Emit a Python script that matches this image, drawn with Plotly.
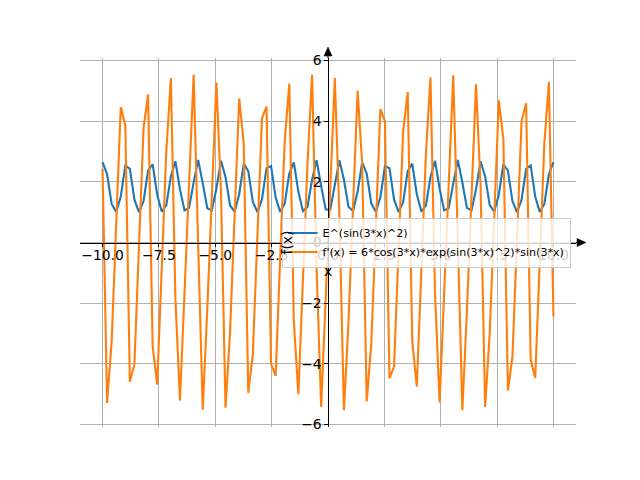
import numpy as np
import plotly.graph_objects as go

# ---- data ----
X_MIN, X_MAX, N_POINTS = -10.0, 10.0, 100
x_vals = np.linspace(X_MIN, X_MAX, N_POINTS)

f_vals = [2.65, 2.25, 1.27, 1.01, 1.51, 2.54, 2.43, 1.41, 1.00, 1.36,
          2.37, 2.58, 1.57, 1.02, 1.23, 2.18, 2.68, 1.75, 1.06, 1.14,
          1.98, 2.72, 1.95, 1.13, 1.06, 1.78, 2.69, 2.16, 1.22, 1.02,
          1.59, 2.60, 2.35, 1.34, 1.00, 1.42, 2.45, 2.52, 1.49, 1.01,
          1.29, 2.27, 2.64, 1.67, 1.04, 1.18, 2.07, 2.71, 1.86, 1.09,
          1.09, 1.86, 2.71, 2.07, 1.18, 1.04, 1.67, 2.64, 2.27, 1.29,
          1.01, 1.49, 2.52, 2.45, 1.42, 1.00, 1.34, 2.35, 2.60, 1.59,
          1.02, 1.22, 2.16, 2.69, 1.78, 1.06, 1.13, 1.95, 2.72, 1.98,
          1.14, 1.06, 1.75, 2.68, 2.18, 1.23, 1.02, 1.57, 2.58, 2.37,
          1.36, 1.00, 1.41, 2.43, 2.54, 1.51, 1.01, 1.27, 2.25, 2.65]

df_vals = [2.43, -5.29, -3.27, 0.56, 4.47, 3.86, -4.59, -4.01, -0.11, 3.76,
           4.88, -3.42, -4.69, -0.78, 3.01, 5.42, -1.87, -5.22, -1.47, 2.27,
           5.53, -0.10, -5.51, -2.19, 1.55, 5.27, 1.69, -5.45, -2.93, 0.86,
           4.75, 3.27, -4.96, -3.68, 0.19, 4.09, 4.48, -3.99, -4.40, -0.48,
           3.35, 5.24, -2.60, -5.01, -1.16, 2.60, 5.53, -0.90, -5.42, -1.87,
           1.87, 5.42, 0.90, -5.53, -2.60, 1.16, 5.01, 2.60, -5.24, -3.35,
           0.48, 4.40, 3.99, -4.48, -4.09, -0.19, 3.68, 4.96, -3.27, -4.75,
           -0.86, 2.93, 5.45, -1.69, -5.27, -1.55, 2.19, 5.51, 0.10, -5.53,
           -2.27, 1.47, 5.22, 1.87, -5.42, -3.01, 0.78, 4.69, 3.42, -4.88,
           -3.76, 0.11, 4.01, 4.59, -3.86, -4.47, -0.56, 3.27, 5.29, -2.43]

series_names = ["E^(sin(3*x)^2)",
                "f'(x) = 6*cos(3*x)*exp(sin(3*x)^2)*sin(3*x)"]
x_ticks = [-10, -7.5, -5, -2.5, 0, 2.5, 5, 7.5, 10]
x_tick_text = ["\u221210.0", "\u22127.5", "\u22125.0", "\u22122.5", "0.0",
               "2.5", "5.0", "7.5", "10.0"]
y_ticks = [-6, -4, -2, 0, 2, 4, 6]
y_tick_text = ["\u22126", "\u22124", "\u22122", "0", "2", "4", "6"]
x_label = "x"
y_label = "f(x)"

# ---- style ----
FONT = "DejaVu Sans"
C0, C1 = "#1f77b4", "#ff7f0e"
GRID = "#b0b0b0"

x_pad = 0.05 * (X_MAX - X_MIN)
all_y = f_vals + df_vals
y_lo, y_hi = min(all_y), max(all_y)
y_pad = 0.05 * (y_hi - y_lo)

fig = go.Figure()
fig.add_trace(go.Scatter(x=x_vals, y=f_vals, mode="lines", name=series_names[0],
                         line=dict(color=C0, width=2.1)))
fig.add_trace(go.Scatter(x=x_vals, y=df_vals, mode="lines", name=series_names[1],
                         line=dict(color=C1, width=2.1)))

axis_common = dict(
    showgrid=True, gridcolor=GRID, gridwidth=1.1, zeroline=False,
    showline=True, linecolor="black", linewidth=1.1,
    ticks="outside", ticklen=3.5, tickwidth=1.1, tickcolor="black",
    tickfont=dict(family=FONT, size=13.9, color="black"),
    anchor="free", position=0.5, automargin=False,
)

# the page body adds an 8 px offset; margins compensate for it
fig.update_layout(
    width=640, height=480,
    margin=dict(l=72, r=72, t=50, b=61),
    paper_bgcolor="white", plot_bgcolor="white",
    xaxis=dict(range=[X_MIN - x_pad, X_MAX + x_pad], tickmode="array",
               tickvals=x_ticks, ticktext=x_tick_text, ticklabelstandoff=-4,
               title=dict(text=x_label, font=dict(family=FONT, size=13.9, color="black"),
                          standoff=0),
               **axis_common),
    yaxis=dict(range=[y_lo - y_pad, y_hi + y_pad], tickmode="array",
               tickvals=y_ticks, ticktext=y_tick_text,
               title=dict(text=y_label, font=dict(family=FONT, size=13.9, color="black"),
                          standoff=4),
               **axis_common),
    legend=dict(x=0.989, xanchor="right", y=0.5, yanchor="middle",
                bgcolor="rgba(255,255,255,0.8)", bordercolor="#cccccc", borderwidth=1,
                font=dict(family=FONT, size=11.1, color="black"),
                tracegroupgap=0, itemwidth=30),
    showlegend=True,
)

# arrowheads at the ends of the centred axes
fig.add_shape(type="path", xref="paper", yref="y", xsizemode="pixel", ysizemode="pixel",
              xanchor=1, yanchor=0, path="M 1,-4 L 10,0 L 1,4 Z",
              fillcolor="black", line=dict(color="black", width=0.5))
fig.add_shape(type="line", xref="paper", yref="y", xsizemode="pixel", ysizemode="pixel",
              xanchor=1, yanchor=0, x0=0, x1=2, y0=0, y1=0,
              line=dict(color="black", width=1.1))
fig.add_shape(type="path", xref="x", yref="paper", xsizemode="pixel", ysizemode="pixel",
              xanchor=0, yanchor=1, path="M -4,2 L 0,11 L 4,2 Z",
              fillcolor="black", line=dict(color="black", width=0.5))
fig.add_shape(type="line", xref="x", yref="paper", ysizemode="pixel", yanchor=1,
              x0=0, x1=0, y0=0, y1=3, line=dict(color="black", width=1.1))

fig.write_html("out.html")
